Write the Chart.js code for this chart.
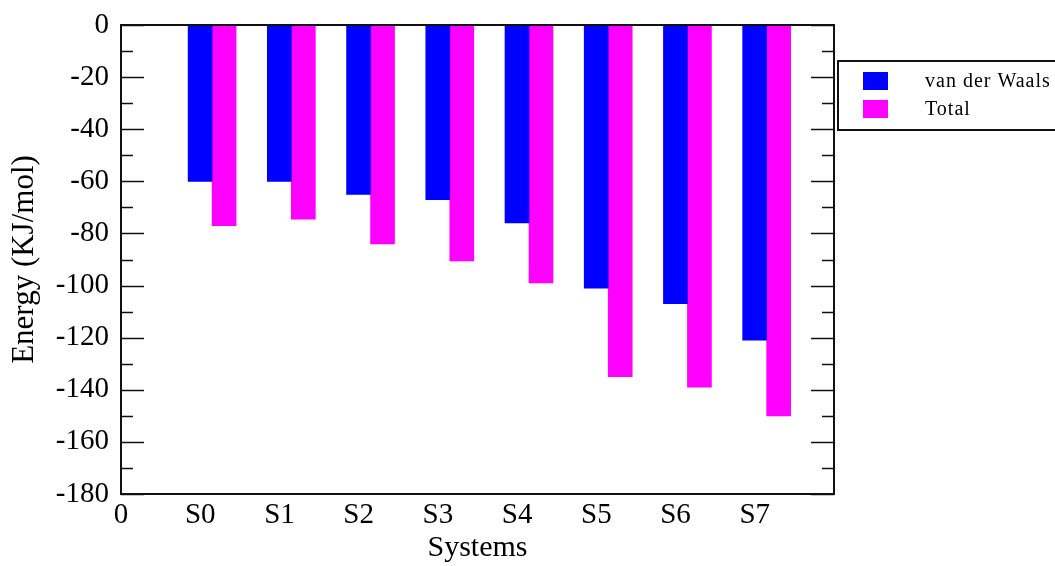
<!DOCTYPE html>
<html>
<head>
<meta charset="utf-8">
<script src="https://cdn.jsdelivr.net/npm/chart.js@4.4.0/dist/chart.umd.min.js"></script>
<style>
  body { margin: 0; background: #fff; }
  #wrap { width: 1055px; height: 566px; }
</style>
</head>
<body>
<div id="wrap"><canvas id="chart" width="1055" height="566"></canvas></div>
<script>
// values
const categories = ['S0', 'S1', 'S2', 'S3', 'S4', 'S5', 'S6', 'S7'];
const xTickLabels = ['0', 'S0', 'S1', 'S2', 'S3', 'S4', 'S5', 'S6', 'S7'];
const vdwValues = [-60, -60, -65, -67, -76, -101, -107, -121];
const totalValues = [-77, -74.5, -84, -90.5, -99, -135, -139, -150];
const seriesNames = ['van der Waals', 'Total'];
const yMin = -180, yMax = 0, yStep = 20;

const FONT = "'Liberation Serif', 'DejaVu Serif', serif";
const BAR_W = 24;

// box round the plot, inward ticks on left and right, plus the legend box
const framePlugin = {
  id: 'frame',
  afterDraw(chart) {
    const ctx = chart.ctx;
    const a = chart.chartArea;
    const y = chart.scales.y;
    ctx.save();
    ctx.strokeStyle = '#111';
    ctx.lineWidth = 2;
    ctx.strokeRect(a.left, a.top, a.right - a.left, a.bottom - a.top);
    ctx.lineWidth = 1.5;
    for (let v = yMin; v <= yMax; v += yStep / 2) {
      const py = Math.round(y.getPixelForValue(v)) + 0.5;
      const len = (v % yStep === 0) ? 23 : 12;
      ctx.beginPath();
      ctx.moveTo(a.left, py); ctx.lineTo(a.left + len, py);
      ctx.moveTo(a.right, py); ctx.lineTo(a.right - len, py);
      ctx.stroke();
    }

    // legend
    ctx.lineWidth = 2;
    ctx.strokeRect(838, 61, 240, 69);
    ctx.font = '20px ' + FONT;
    ctx.letterSpacing = '1px';
    ctx.textBaseline = 'middle';
    chart.data.datasets.forEach((ds, i) => {
      const top = 72 + i * 28;
      ctx.fillStyle = ds.backgroundColor;
      ctx.fillRect(863, top, 25, 18);
      ctx.fillStyle = '#000';
      ctx.fillText(ds.label, 925, top + 10);
    });
    ctx.restore();
  }
};

new Chart(document.getElementById('chart'), {
  type: 'bar',
  data: {
    datasets: [
      { label: seriesNames[0], data: vdwValues.map((v, i) => ({ x: i + 1, y: v })),
        backgroundColor: '#0000ff', xAxisID: 'xb', barThickness: BAR_W },
      { label: seriesNames[1], data: totalValues.map((v, i) => ({ x: i + 1, y: v })),
        backgroundColor: '#ff00ff', xAxisID: 'xb', barThickness: BAR_W }
    ]
  },
  options: {
    responsive: false,
    animation: false,
    layout: { padding: { top: 25, right: 221, left: 0, bottom: 0 } },
    plugins: { legend: { display: false }, tooltip: { enabled: false } },
    scales: {
      x: {
        type: 'linear', min: 0, max: xTickLabels.length, offset: false,
        grid: { display: false, drawTicks: false, offset: false },
        border: { display: false },
        ticks: {
          stepSize: 1, autoSkip: false, maxRotation: 0, padding: 4,
          color: '#000', font: { family: FONT, size: 29 },
          callback: v => xTickLabels[v] ?? ''
        },
        title: { display: true, text: 'Systems', color: '#000',
                 font: { family: FONT, size: 30 }, padding: 0 },
        afterFit(s) { s.height = 72; s.paddingLeft = 0; s.paddingRight = 0; }
      },
      // bars sit on this hidden axis, shifted so the blue bar is centred on its label
      xb: {
        type: 'linear', display: false, offset: false,
        grid: { offset: false },
        min: -0.15, max: xTickLabels.length - 0.15
      },
      y: {
        min: yMin, max: yMax,
        grid: { display: false, drawTicks: false },
        border: { display: false },
        ticks: { stepSize: yStep, padding: 12, color: '#000',
                 font: { family: FONT, size: 29 } },
        title: { display: true, text: 'Energy (KJ/mol)', color: '#000',
                 font: { family: FONT, size: 31 }, padding: { top: 6 } },
        afterFit(s) { s.width = 121; s.paddingTop = 0; s.paddingBottom = 0; }
      }
    }
  },
  plugins: [framePlugin]
});
</script>
</body>
</html>
